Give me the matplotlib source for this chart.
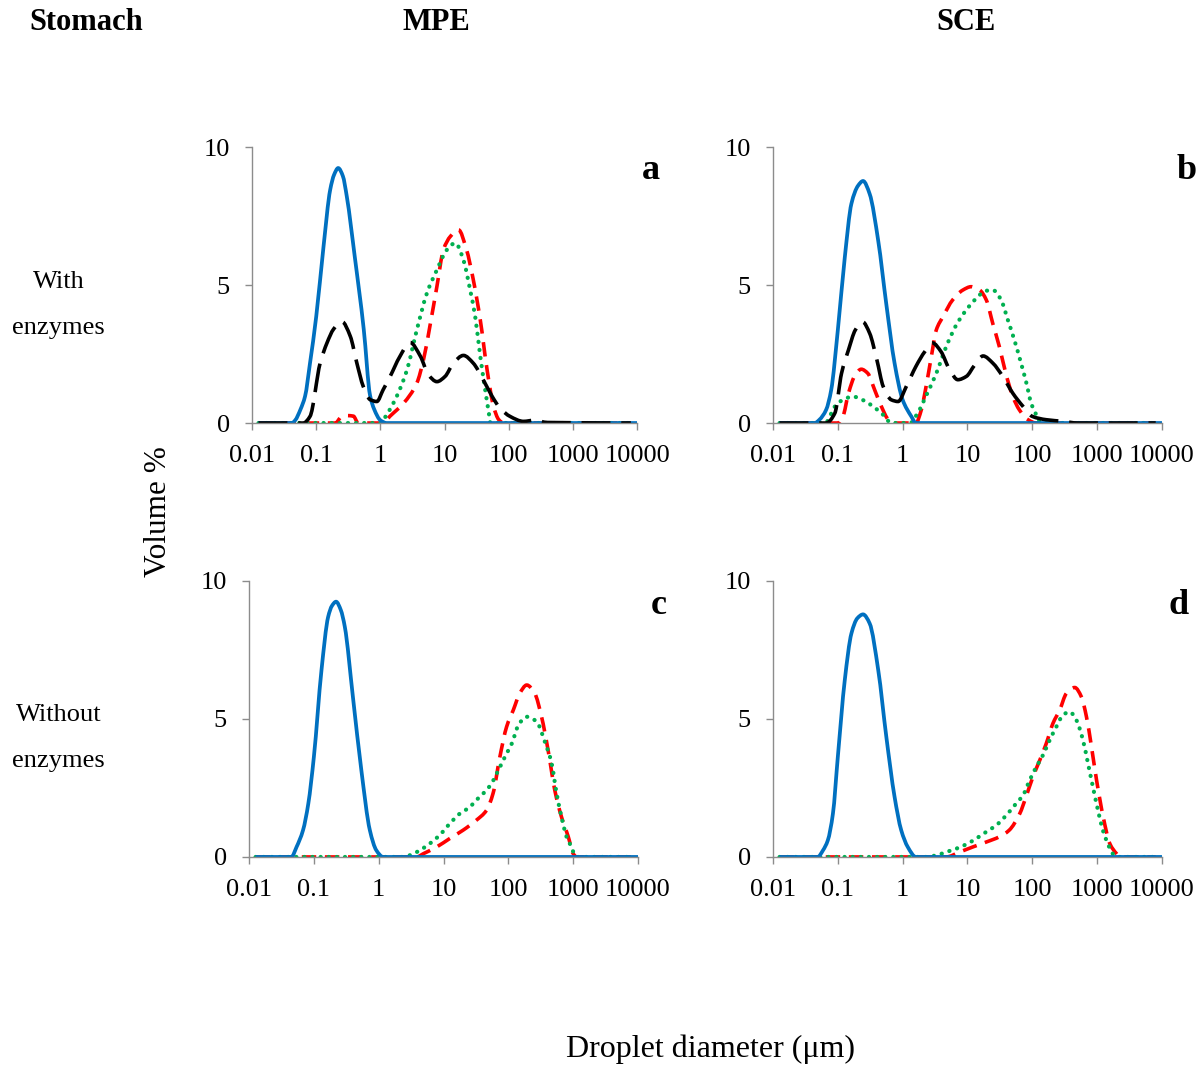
import matplotlib
matplotlib.use('Agg')
import matplotlib.pyplot as plt
import numpy as np
from matplotlib.path import Path
from matplotlib.patches import PathPatch

plt.rcParams['font.family'] = ['Liberation Serif', 'DejaVu Serif']

# Панель a: MPE, шлунок з ферментами
a_x_blue = [0.0126, 0.042, 0.047, 0.057, 0.067, 0.080, 0.1, 0.13, 0.165, 0.19, 0.22, 0.26, 0.30, 0.40, 0.55, 0.69, 0.80, 1.0, 1.25, 10000]
a_y_blue = [0, 0, 0.1, 0.5, 0.97, 2.17, 3.86, 6.4, 8.45, 9.0, 9.24, 8.95, 8.2, 6.0, 3.4, 1.0, 0.5, 0.1, 0, 0]
a_x_black = [0.0126, 0.063, 0.08, 0.115, 0.147, 0.186, 0.25, 0.34, 0.43, 0.54, 0.69, 0.88, 1.1, 1.42, 2.0, 2.9, 4.2, 5.6, 7.6, 10.2, 13.7, 19.7, 28, 40, 55, 73, 105, 170, 250, 400, 8000]
a_y_black = [0, 0, 0.24, 2.17, 2.9, 3.4, 3.68, 3.14, 2.17, 1.33, 0.85, 0.78, 1.2, 1.69, 2.4, 2.92, 2.42, 1.75, 1.5, 1.69, 2.17, 2.45, 2.17, 1.57, 0.97, 0.54, 0.24, 0.06, 0.1, 0.02, 0]
a_x_red = [0.0126, 0.2, 0.24, 0.3, 0.38, 0.45, 1.1, 1.4, 2.3, 3.7, 4.7, 5.9, 7.6, 9.6, 12.3, 16.5, 22, 28, 36, 46, 58, 70, 83, 8000]
a_y_red = [0, 0, 0.2, 0.27, 0.25, 0, 0, 0.24, 0.72, 1.45, 2.3, 3.5, 4.95, 6.28, 6.76, 7.0, 6.28, 5.2, 3.74, 1.93, 0.6, 0.12, 0, 0]
a_x_green = [0.0126, 1.0, 1.25, 1.8, 2.6, 3.7, 5.3, 7.6, 10.9, 14.7, 19.7, 25, 30, 36, 43, 49, 52, 8000]
a_y_green = [0, 0, 0.3, 0.97, 1.93, 3.38, 4.7, 5.55, 6.28, 6.52, 5.9, 4.83, 3.86, 2.42, 1.2, 0.36, 0, 0]

# Панель b: SCE, шлунок з ферментами
b_x_blue = [0.0126, 0.044, 0.052, 0.066, 0.079, 0.1, 0.128, 0.162, 0.205, 0.245, 0.31, 0.42, 0.56, 0.75, 1.0, 1.36, 1.6, 10000]
b_y_blue = [0, 0, 0.12, 0.48, 1.2, 3.37, 6.0, 7.95, 8.6, 8.77, 8.3, 6.6, 4.3, 2.17, 0.84, 0.24, 0, 0]
b_x_black = [0.0126, 0.066, 0.09, 0.114, 0.146, 0.186, 0.24, 0.31, 0.40, 0.5, 0.67, 0.85, 1.14, 1.6, 2.2, 2.9, 3.9, 5.3, 7.1, 9.6, 12.9, 17.4, 24.6, 35, 50, 72, 100, 164, 300, 500, 8000]
b_y_black = [0, 0, 0.36, 1.8, 2.65, 3.37, 3.67, 3.25, 2.29, 1.33, 0.84, 0.78, 1.33, 2.05, 2.59, 2.9, 2.59, 1.93, 1.57, 1.69, 2.1, 2.43, 2.17, 1.69, 1.08, 0.6, 0.24, 0.12, 0.06, 0, 0]
b_x_red = [0.0126, 0.1, 0.12, 0.146, 0.186, 0.23, 0.29, 0.37, 0.47, 0.6, 0.71, 1.6, 1.94, 2.3, 2.77, 3.3, 4.2, 5.9, 8.5, 11.4, 15.4, 19.5, 24.6, 31, 39, 50, 63, 86, 115, 8000]
b_y_red = [0, 0, 0.24, 1.08, 1.75, 1.95, 1.8, 1.2, 0.6, 0.12, 0, 0, 0.48, 1.33, 2.41, 3.37, 3.86, 4.46, 4.82, 4.94, 4.82, 4.46, 3.6, 2.77, 1.8, 0.96, 0.48, 0.12, 0, 0]
b_x_green = [0.0126, 0.065, 0.075, 0.09, 0.12, 0.17, 0.24, 0.35, 0.5, 0.67, 1.3, 1.7, 2.4, 3.3, 4.7, 6.7, 9.6, 13.7, 18.6, 24.6, 33, 42, 53, 67, 81, 96, 115, 137, 8000]
b_y_green = [0, 0, 0.24, 0.6, 0.84, 0.96, 0.84, 0.6, 0.3, 0, 0, 0.36, 1.08, 1.8, 2.77, 3.55, 4.1, 4.52, 4.78, 4.82, 4.46, 3.73, 3.0, 2.17, 1.45, 0.72, 0.3, 0, 0]

# Панель c: MPE, шлунок без ферментів
c_x_blue = [0.0126, 0.045, 0.054, 0.068, 0.082, 0.1, 0.131, 0.166, 0.19, 0.22, 0.26, 0.30, 0.40, 0.54, 0.73, 0.92, 1.17, 10000]
c_y_blue = [0, 0, 0.36, 0.97, 1.93, 3.63, 6.77, 8.7, 9.1, 9.25, 8.95, 8.34, 5.8, 3.14, 0.97, 0.24, 0, 0]
c_x_red = [0.0126, 3.85, 4.9, 7.8, 12.5, 20, 32, 46, 58, 74, 94, 119, 150, 192, 255, 325, 410, 520, 660, 840, 1000, 1130, 8000]
c_y_red = [0, 0, 0.12, 0.36, 0.67, 0.97, 1.33, 1.69, 2.3, 3.63, 4.72, 5.32, 5.93, 6.23, 5.93, 5.08, 3.87, 2.42, 1.45, 0.73, 0.12, 0, 0]
c_x_green = [0.0126, 2.4, 3.0, 4.3, 6.1, 8.7, 12.5, 17.8, 25.5, 32, 41, 55, 66, 79, 94, 113, 143, 192, 273, 366, 465, 555, 660, 790, 940, 1060, 1170, 8000]
c_y_green = [0, 0, 0.06, 0.24, 0.48, 0.79, 1.21, 1.57, 1.81, 2.06, 2.3, 2.66, 3.02, 3.39, 3.75, 4.11, 4.78, 5.08, 4.9, 4.17, 3.39, 2.3, 1.45, 0.73, 0.36, 0.06, 0, 0]

# Панель d: SCE, шлунок без ферментів
d_x_blue = [0.0126, 0.049, 0.059, 0.070, 0.084, 0.1, 0.128, 0.162, 0.2, 0.245, 0.31, 0.42, 0.56, 0.75, 0.95, 1.2, 1.6, 10000]
d_y_blue = [0, 0, 0.24, 0.6, 1.57, 3.63, 6.41, 8.1, 8.65, 8.79, 8.46, 6.77, 4.35, 2.18, 0.97, 0.36, 0, 0]
d_x_red = [0.0126, 4.7, 7.6, 12, 19.4, 31, 44, 64, 80, 102, 130, 164, 208, 264, 336, 452, 572, 684, 818, 980, 1240, 1570, 1990, 2250, 8000]
d_y_red = [0, 0, 0.18, 0.36, 0.54, 0.73, 0.97, 1.57, 2.18, 2.9, 3.5, 4.11, 4.84, 5.32, 5.93, 6.14, 5.8, 5.08, 3.99, 2.78, 1.45, 0.48, 0.12, 0, 0]
d_x_green = [0.0126, 2.3, 3.3, 4.7, 6.7, 9.6, 13.7, 19.5, 27.8, 39.6, 56, 72, 91, 115, 146, 185, 235, 297, 376, 478, 605, 722, 860, 1030, 1225, 1460, 1740, 2080, 8000]
d_y_green = [0, 0, 0.06, 0.18, 0.3, 0.46, 0.67, 0.91, 1.15, 1.51, 1.93, 2.24, 2.78, 3.26, 3.69, 4.23, 4.72, 5.14, 5.26, 4.96, 4.23, 3.39, 2.54, 1.69, 0.97, 0.48, 0.12, 0, 0]

x_ticks = [0.01, 0.1, 1, 10, 100, 1000, 10000]
x_tick_labels = ['0.01', '0.1', '1', '10', '100', '1000', '10000']
y_ticks = [0, 5, 10]


def smooth_path(xs, ys):
    # Згладжена лінія як в Excel: кубічні криві Безьє між точками (у лог-шкалі по x)
    u = np.log10(np.array(xs, dtype=float))
    y = np.array(ys, dtype=float)
    n = len(u)
    h = np.diff(u)
    d = np.diff(y) / h
    m = np.zeros(n)
    m[0] = d[0]
    m[-1] = d[-1]
    for k in range(1, n - 1):
        if d[k - 1] * d[k] > 0:
            w1 = 2 * h[k] + h[k - 1]
            w2 = h[k] + 2 * h[k - 1]
            m[k] = (w1 + w2) / (w1 / d[k - 1] + w2 / d[k])
    verts = [(u[0], y[0])]
    codes = [Path.MOVETO]
    for k in range(n - 1):
        verts.append((u[k] + h[k] / 3, y[k] + m[k] * h[k] / 3))
        verts.append((u[k + 1] - h[k] / 3, y[k + 1] - m[k + 1] * h[k] / 3))
        verts.append((u[k + 1], y[k + 1]))
        codes += [Path.CURVE4] * 3
    verts = np.array(verts)
    verts[:, 0] = 10 ** verts[:, 0]
    return Path(verts, codes)


panels = [
    ('a', [0.2097, 0.6039, 0.3203, 0.2584], (651, 170), (a_x_red, a_y_red), (a_x_green, a_y_green), (a_x_blue, a_y_blue), (a_x_black, a_y_black)),
    ('b', [0.6431, 0.6039, 0.3236, 0.2584], (1187, 170), (b_x_red, b_y_red), (b_x_green, b_y_green), (b_x_blue, b_y_blue), (b_x_black, b_y_black)),
    ('c', [0.2072, 0.1976, 0.3236, 0.2584], (659, 605), (c_x_red, c_y_red), (c_x_green, c_y_green), (c_x_blue, c_y_blue), None),
    ('d', [0.6431, 0.1976, 0.3236, 0.2584], (1179, 605), (d_x_red, d_y_red), (d_x_green, d_y_green), (d_x_blue, d_y_blue), None),
]

fig = plt.figure(figsize=(12.02, 10.68), dpi=100)

for letter, pos, lpos, red, green, blue, black in panels:
    ax = fig.add_axes(pos)
    ax.set_xscale('log')
    ax.set_xlim(0.01, 10000)
    ax.set_ylim(0, 10)
    ax.add_patch(PathPatch(smooth_path(*red), fill=False, edgecolor='#FF0000', lw=2.6,
                           linestyle=(0, (4, 2.4)), capstyle='butt', joinstyle='round'))
    ax.add_patch(PathPatch(smooth_path(*green), fill=False, edgecolor='#00B050', lw=3.0,
                           linestyle=(0, (0.05, 1.9)), capstyle='round'))
    ax.add_patch(PathPatch(smooth_path(*blue), fill=False, edgecolor='#0070C0', lw=2.7,
                           joinstyle='round', capstyle='butt'))
    if black is not None:
        ax.add_patch(PathPatch(smooth_path(*black), fill=False, edgecolor='black', lw=2.6,
                               linestyle=(0, (8, 3)), capstyle='butt', joinstyle='round'))
    ax.set_xticks(x_ticks)
    ax.set_xticklabels(x_tick_labels)
    ax.minorticks_off()
    ax.set_yticks(y_ticks)
    for side in ['top', 'right']:
        ax.spines[side].set_visible(False)
    for side in ['left', 'bottom']:
        ax.spines[side].set_color('#8c8c8c')
        ax.spines[side].set_linewidth(1.0)
    ax.tick_params(axis='both', colors='#8c8c8c', labelcolor='black', labelsize=19,
                   length=5, width=1.0)
    ax.tick_params(axis='y', pad=11)
    ax.tick_params(axis='x', pad=11)
    ax.patch.set_visible(False)
    fig.text(lpos[0] / 1202, 1 - lpos[1] / 1068, letter, fontsize=26, fontweight='bold',
             ha='center', va='center')

# Підписи рядків, стовпців і осей
fig.text(86 / 1202, 1 - 22 / 1068, 'Stomach', fontsize=22, fontweight='bold', ha='center', va='center')
fig.text(436 / 1202, 1 - 22 / 1068, 'MPE', fontsize=22, fontweight='bold', ha='center', va='center')
fig.text(966 / 1202, 1 - 22 / 1068, 'SCE', fontsize=22, fontweight='bold', ha='center', va='center')
fig.text(59 / 1202, 1 - 282 / 1068, 'With', fontsize=19, ha='center', va='center')
fig.text(58 / 1202, 1 - 328 / 1068, 'enzymes', fontsize=19, ha='center', va='center')
fig.text(59 / 1202, 1 - 715 / 1068, 'Without', fontsize=19, ha='center', va='center')
fig.text(58 / 1202, 1 - 761 / 1068, 'enzymes', fontsize=19, ha='center', va='center')
fig.text(158 / 1202, 1 - 512 / 1068, 'Volume %', fontsize=22.5, rotation=90, ha='center', va='center')
fig.text(710 / 1202, 1 - 1049 / 1068, 'Droplet diameter (μm)', fontsize=23, ha='center', va='center')

fig.savefig('out.png', dpi=100)
